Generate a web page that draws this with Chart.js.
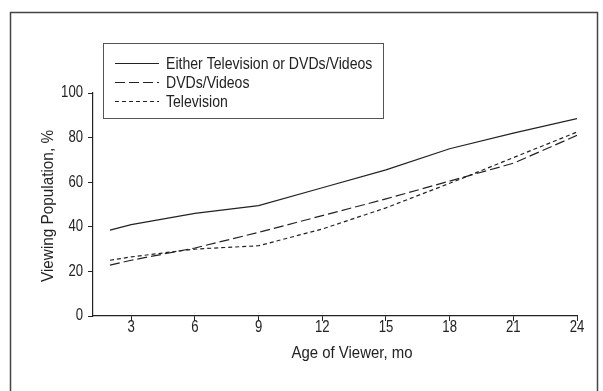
<!DOCTYPE html>
<html>
<head>
<meta charset="utf-8">
<script src="https://cdn.jsdelivr.net/npm/chart.js@4.4.1/dist/chart.umd.min.js"></script>
<style>
  html, body { margin: 0; padding: 0; background: #fff; }
  #wrap { width: 603px; height: 391px; }
</style>
</head>
<body>
<div id="wrap"><canvas id="chart" width="603" height="391"></canvas></div>
<script>
// values (percent of viewers by age in months)
const months = [2, 3, 6, 9, 12, 15, 18, 21, 24];
const eitherPct = [38.5, 41, 46, 49.5, 57.5, 65.5, 75, 82, 88.5];
const dvdPct = [22.8, 25, 30.5, 37.5, 45, 52.5, 60.5, 68.5, 81];
const tvPct = [25, 26.5, 30, 31.5, 39, 48.5, 59.5, 71, 82.5];

const seriesLabels = ['Either Television or DVDs/Videos', 'DVDs/Videos', 'Television'];
const xTicks = [3, 6, 9, 12, 15, 18, 21, 24];
const yTicks = [0, 20, 40, 60, 80, 100];
const xTitle = 'Age of Viewer, mo';
const yTitle = 'Viewing Population, %';

// no condensed face is installed, so squeeze a regular sans horizontally
const FONT = "'Liberation Sans', Arial, sans-serif";
const INK = '#222';

const toPoints = vals => vals.map((v, i) => ({ x: months[i], y: v }));

function squeezedText(ctx, text, x, y, size, sx, align) {
  ctx.save();
  ctx.font = size + 'px ' + FONT;
  ctx.textAlign = align;
  ctx.textBaseline = 'middle';
  ctx.translate(x, y);
  ctx.scale(sx, 1);
  ctx.fillText(text, 0, 0);
  ctx.restore();
}

// frame, tick labels, boxed legend and axis titles
const decorations = {
  id: 'decorations',
  afterDraw(chart) {
    const ctx = chart.ctx;
    const { x: xs, y: ys } = chart.scales;
    ctx.save();
    ctx.fillStyle = INK;

    // outer frame (bottom edge runs off the page)
    ctx.strokeStyle = '#444';
    ctx.lineWidth = 1.5;
    ctx.strokeRect(10.5, 12.5, 587, 400);

    // tick labels, placed by the chart's own scales
    xTicks.forEach(v => squeezedText(ctx, String(v), xs.getPixelForValue(v), 328, 16, 0.82, 'center'));
    yTicks.forEach(v => squeezedText(ctx, String(v), 83, ys.getPixelForValue(v), 16, 0.82, 'right'));

    // legend box
    ctx.lineWidth = 1;
    ctx.strokeStyle = '#555';
    ctx.fillStyle = '#fff';
    ctx.fillRect(103.5, 43.5, 280, 75);
    ctx.strokeRect(103.5, 43.5, 280, 75);

    ctx.fillStyle = INK;
    chart.data.datasets.forEach((ds, i) => {
      const y = 63.5 + i * 19;
      ctx.strokeStyle = INK;
      ctx.lineWidth = 1.2;
      ctx.setLineDash(ds.borderDash || []);
      ctx.beginPath();
      ctx.moveTo(115, y);
      ctx.lineTo(159, y);
      ctx.stroke();
      ctx.setLineDash([]);
      squeezedText(ctx, ds.label, 166, y + 1, 16, 0.88, 'left');
    });

    // axis titles
    squeezedText(ctx, xTitle, 352, 353, 17, 0.88, 'center');
    ctx.translate(48, 206);
    ctx.rotate(-Math.PI / 2);
    squeezedText(ctx, yTitle, 0, 0, 17, 0.9, 'center');

    ctx.restore();
  }
};

const ctx = document.getElementById('chart').getContext('2d');
new Chart(ctx, {
  type: 'line',
  data: {
    datasets: [
      { label: seriesLabels[0], data: toPoints(eitherPct), borderDash: [] },
      { label: seriesLabels[1], data: toPoints(dvdPct), borderDash: [10, 4] },
      { label: seriesLabels[2], data: toPoints(tvPct), borderDash: [4, 3] },
    ].map(ds => ({
      ...ds,
      borderColor: INK,
      borderWidth: 1.2,
      pointRadius: 0,
      tension: 0,
      fill: false,
    })),
  },
  options: {
    responsive: false,
    animation: false,
    devicePixelRatio: 1,
    layout: { padding: { left: 0, top: 93, right: 26, bottom: 0 } },
    plugins: {
      legend: { display: false },
      tooltip: { enabled: false },
    },
    scales: {
      x: {
        type: 'linear',
        min: 1.2,
        max: 24,
        afterBuildTicks: s => { s.ticks = xTicks.map(v => ({ value: v })); },
        afterFit: s => { s.height = 75; },
        grid: { display: true, drawOnChartArea: false, drawTicks: true, tickLength: 5, color: INK },
        border: { display: true, color: INK, width: 1.2 },
        ticks: { display: false },
      },
      y: {
        min: 0,
        max: 100,
        afterBuildTicks: s => { s.ticks = yTicks.map(v => ({ value: v })); },
        afterFit: s => { s.width = 93; },
        grid: { display: true, drawOnChartArea: false, drawTicks: true, tickLength: 5, color: INK },
        border: { display: true, color: INK, width: 1.2 },
        ticks: { display: false },
      },
    },
  },
  plugins: [decorations],
});
</script>
</body>
</html>
